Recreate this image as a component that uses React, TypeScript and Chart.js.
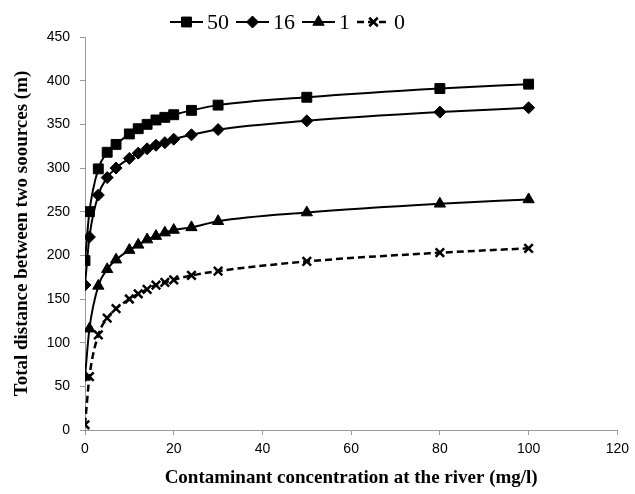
import React, { useEffect, useRef } from "react";
import { Chart, registerables } from "chart.js";
import { drawPoint } from "chart.js/helpers";

Chart.register(...registerables);

const xValues = [0, 1, 3, 5, 7, 10, 12, 14, 16, 18, 20, 24, 30, 50, 80, 100];
const series50 = [194, 250, 299, 318, 327, 339, 345, 350, 355, 358, 361, 366, 372, 381, 391, 396];
const series16 = [166, 221, 269, 289, 300, 311, 317, 322, 326, 329, 333, 338, 344, 354, 364, 369];
const series1 = [61, 116, 165, 184, 195, 206, 212, 218, 222, 226, 229, 232, 239, 249, 259, 264];
const series0 = [6, 61, 109, 128, 139, 150, 156, 161, 166, 169, 172, 177, 182, 193, 203, 208];
const seriesLabels = ["50", "16", "1", "0"];
const yTicksMax = 450;
const xTicksMax = 120;

const toPoints = (ys: number[]) => xValues.map((x, i) => ({ x, y: ys[i] }));

const legendPlugin = {
  id: "customLegend",
  afterDraw(chart: any) {
    const ctx = chart.ctx;
    ctx.save();
    let x = 170;
    const y = 22;
    ctx.font = '22px "Liberation Serif"';
    ctx.textBaseline = "middle";
    chart.data.datasets.forEach((ds: any) => {
      const lineLen = 33;
      ctx.strokeStyle = "#000";
      ctx.fillStyle = "#000";
      ctx.lineWidth = ds.borderWidth;
      ctx.setLineDash(ds.borderDash || []);
      ctx.beginPath();
      ctx.moveTo(x, y);
      ctx.lineTo(x + lineLen, y);
      ctx.stroke();
      ctx.setLineDash([]);
      ctx.lineWidth = ds.pointBorderWidth;
      drawPoint(
        ctx,
        { pointStyle: ds.pointStyle, radius: ds.pointRadius, borderWidth: ds.pointBorderWidth, rotation: 0 } as any,
        x + lineLen / 2,
        y
      );
      ctx.fillStyle = "#000";
      const tx = x + lineLen + 4;
      ctx.fillText(ds.label, tx, y + 1);
      x = tx + ctx.measureText(ds.label).width + 7;
    });
    ctx.restore();
  },
};

export default function App() {
  const ref = useRef<HTMLCanvasElement>(null);
  useEffect(() => {
    document.body.style.margin = "0";
    if (!ref.current) return;
    const common = {
      borderColor: "#000",
      backgroundColor: "#000",
      pointBackgroundColor: "#000",
      pointBorderColor: "#000",
      borderWidth: 2,
      cubicInterpolationMode: "monotone" as const,
      fill: false,
    };
    const chart = new Chart(ref.current, {
      type: "line",
      data: {
        datasets: [
          { ...common, label: seriesLabels[0], data: toPoints(series50), pointStyle: "rect", pointRadius: 7, pointBorderWidth: 1 },
          { ...common, label: seriesLabels[1], data: toPoints(series16), pointStyle: "rectRot", pointRadius: 6, pointBorderWidth: 1 },
          { ...common, label: seriesLabels[2], data: toPoints(series1), pointStyle: "triangle", pointRadius: 6.5, pointBorderWidth: 1 },
          { ...common, label: seriesLabels[3], data: toPoints(series0), pointStyle: "crossRot", pointRadius: 6, pointBorderWidth: 2.5, borderWidth: 2.5, borderDash: [7, 4] },
        ] as any,
      },
      options: {
        animation: false,
        responsive: true,
        maintainAspectRatio: false,
        layout: { padding: { top: 37, right: 17, left: 0, bottom: 0 } },
        plugins: { legend: { display: false }, tooltip: { enabled: false } },
        scales: {
          x: {
            type: "linear",
            min: 0,
            max: xTicksMax,
            ticks: { stepSize: 20, color: "#000", font: { family: "Liberation Sans", size: 14 }, padding: 6, maxRotation: 0 },
            grid: { display: true, drawOnChartArea: false, drawTicks: true, tickLength: 5, color: "#999" },
            border: { display: true, color: "#999", width: 1 },
            title: {
              display: true,
              text: "Contaminant concentration at the river (mg/l)",
              color: "#000",
              font: { family: "Liberation Serif", size: 19, weight: "bold" },
              padding: { top: 0, bottom: 5 },
            },
            afterFit: (s: any) => {
              s.height = 64;
            },
          },
          y: {
            min: 0,
            max: yTicksMax,
            ticks: { stepSize: 50, color: "#000", font: { family: "Liberation Sans", size: 14 }, padding: 10 },
            grid: { display: true, drawOnChartArea: false, drawTicks: true, tickLength: 5, color: "#999" },
            border: { display: true, color: "#999", width: 1 },
            title: {
              display: true,
              text: "Total distance between two soources (m)",
              color: "#000",
              font: { family: "Liberation Serif", size: 19, weight: "bold" },
              padding: { top: 11, bottom: 0 },
            },
            afterFit: (s: any) => {
              s.width = 85;
            },
          },
        },
      } as any,
      plugins: [legendPlugin],
    });
    return () => chart.destroy();
  }, []);
  return (
    <div style={{ position: "fixed", left: 0, top: 0, width: 635, height: 494, background: "#fff" }}>
      <canvas ref={ref} />
    </div>
  );
}
